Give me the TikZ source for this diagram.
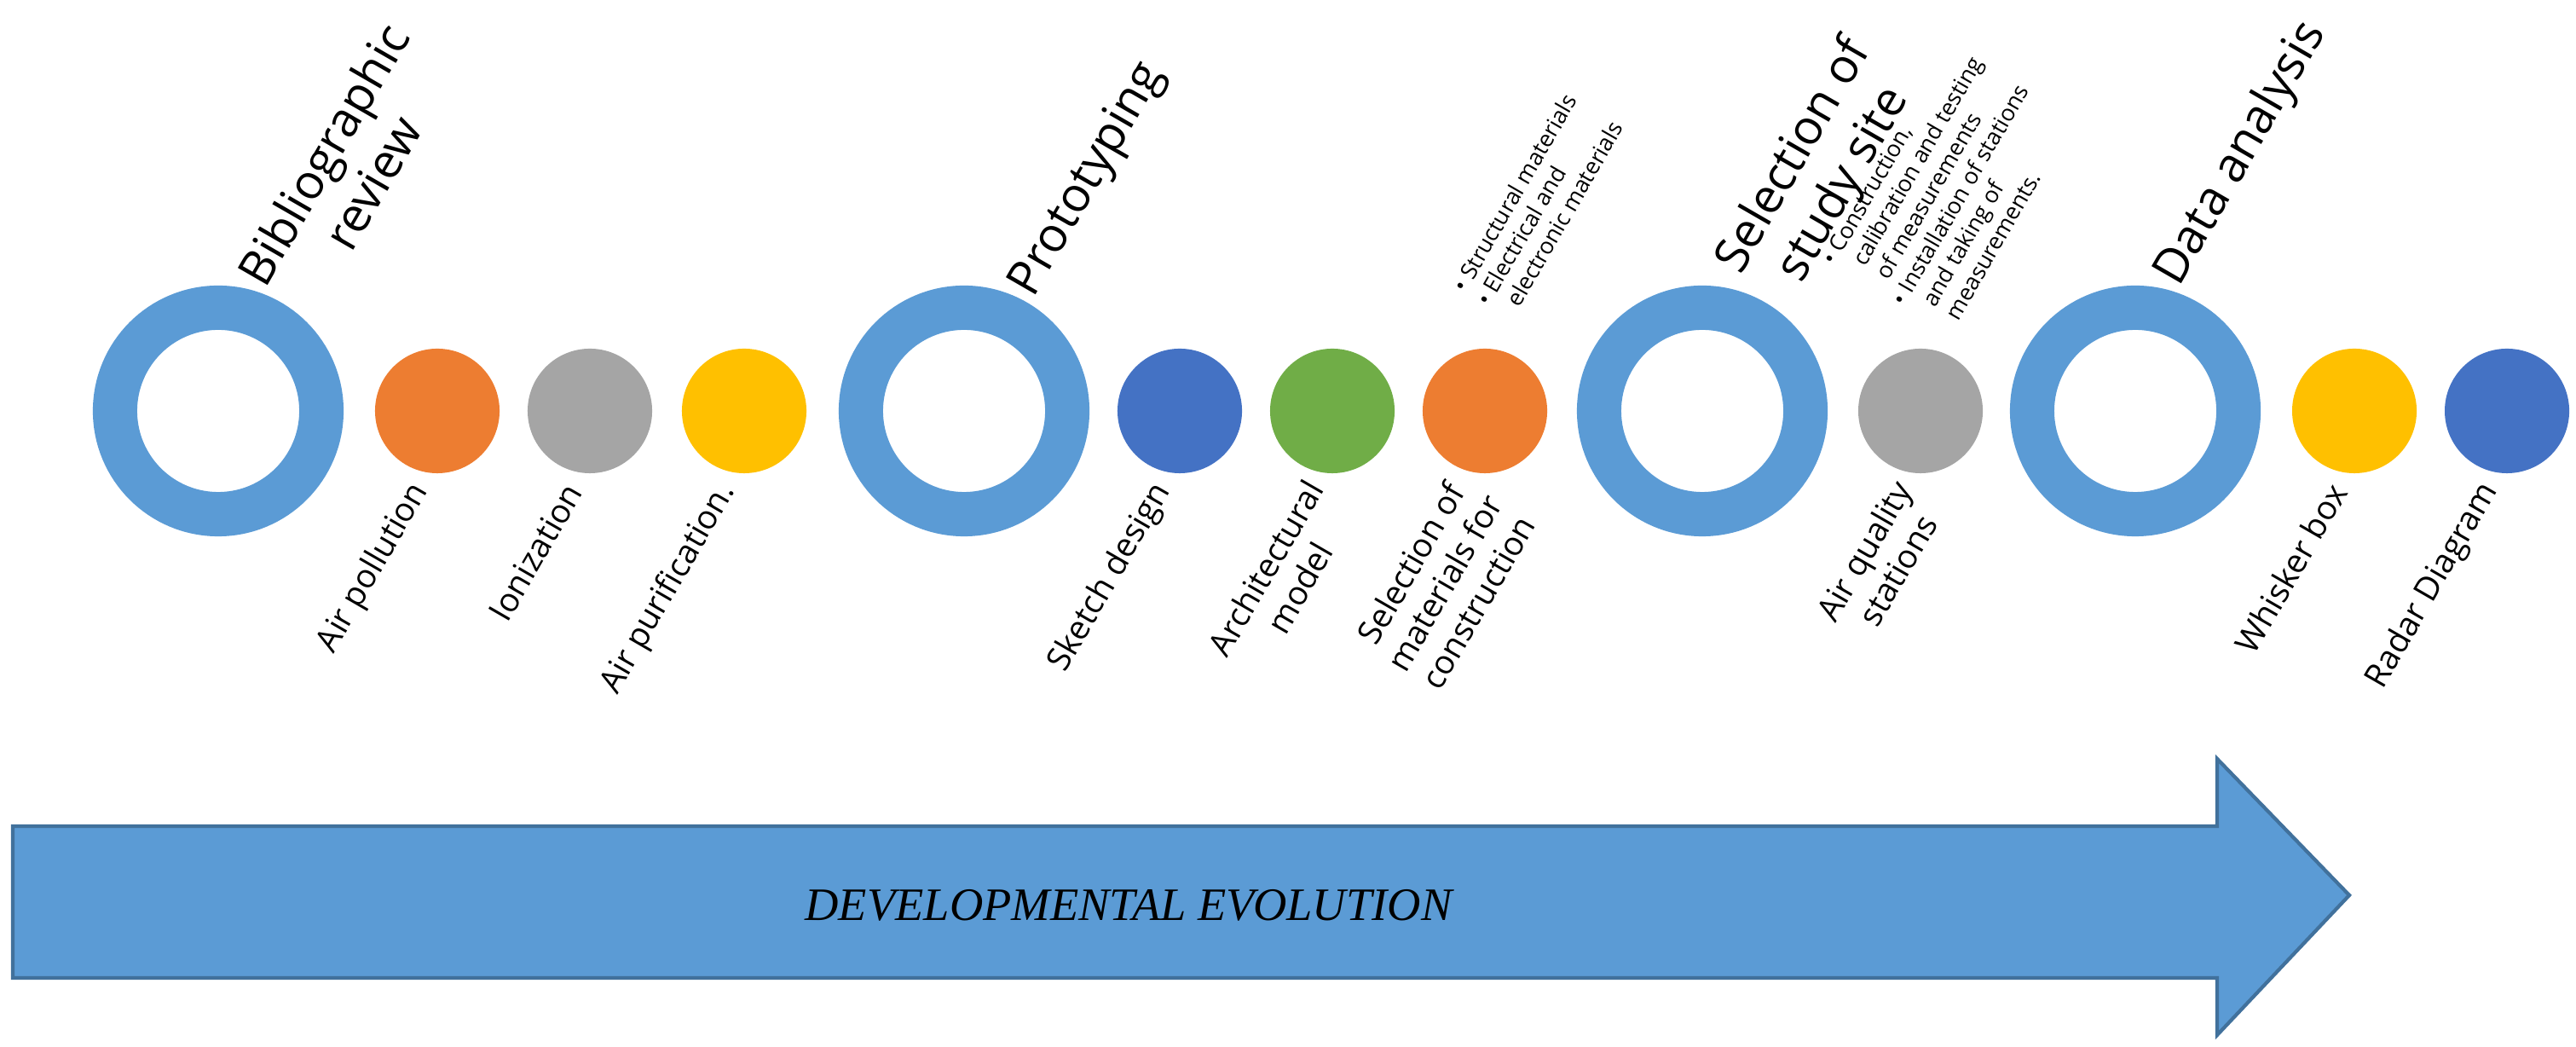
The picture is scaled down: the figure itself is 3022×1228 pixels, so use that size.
\documentclass[tikz,border=0pt]{standalone}
\usepackage{fontspec}
\setmainfont{Open Sans}
\newfontfamily\serifit{Liberation Serif}
\definecolor{cblue}{HTML}{5B9BD5}
\definecolor{cdblue}{HTML}{4472C4}
\definecolor{corange}{HTML}{ED7D31}
\definecolor{cgray}{HTML}{A5A5A5}
\definecolor{cyellow}{HTML}{FFC000}
\definecolor{cgreen}{HTML}{70AD47}
\definecolor{cborder}{HTML}{41719C}
\begin{document}
\begin{tikzpicture}[x=0.01cm,y=0.01cm,
  ring/.style={circle,draw=cblue,line width=0.52cm,minimum size=2.42cm,inner sep=0pt},
  dot/.style={circle,fill=#1,minimum size=1.46cm,inner sep=0pt},
  lab/.style={rotate=60,anchor=east,align=center,font=\fontsize{11}{13}\selectfont,inner sep=0pt},
  ttl/.style={rotate=60,anchor=west,align=center,font=\fontsize{16}{19}\selectfont,inner sep=0pt},
  bl/.style={rotate=60,anchor=west,align=left,font=\fontsize{7.6}{9}\selectfont,inner sep=0pt}]
\useasboundingbox (0,0) rectangle (3022,1228);
% arrow
\draw[fill=cblue,draw=cborder,line width=1.2pt] (15,259) -- (2601,259) -- (2601,338) -- (2756,178) -- (2601,14) -- (2601,81) -- (15,81) -- cycle;
\node (evo) at (1324,166) {\serifit\itshape\fontsize{15.5}{18}\selectfont DEVELOPMENTAL EVOLUTION};
% bullet texts
\node[bl] (b1) at (1738,872) {\textbullet\ Structural materials\\\textbullet\ Electrical and\\\phantom{\textbullet\ }electronic materials};
\node[bl] (b2) at (2212,880) {\textbullet\ Construction,\\\phantom{\textbullet\ }calibration and testing\\\phantom{\textbullet\ }of measurements\\\textbullet\ Installation of stations\\\phantom{\textbullet\ }and taking of\\\phantom{\textbullet\ }measurements.};
% rings
\node[ring] (r1) at (256,746) {};
\node[ring] (r2) at (1131,746) {};
\node[ring] (r3) at (1997,746) {};
\node[ring] (r4) at (2505,746) {};
% dots
\node[dot=corange] (d1) at (513,746) {};
\node[dot=cgray] (d2) at (692,746) {};
\node[dot=cyellow] (d3) at (873,746) {};
\node[dot=cdblue] (d4) at (1384,746) {};
\node[dot=cgreen] (d5) at (1563,746) {};
\node[dot=corange] (d6) at (1742,746) {};
\node[dot=cgray] (d7) at (2253,746) {};
\node[dot=cyellow] (d8) at (2762,746) {};
\node[dot=cdblue] (d9) at (2941,746) {};
% titles
\node[ttl] (t1) at (322,882) {Bibliographic\\review};
\node[ttl] (t2) at (1200,884) {Prototyping};
\node[ttl] (t3) at (2058,895) {Selection of\\study site};
\node[ttl] (t4) at (2543,897) {Data analysis};
% labels
\node[lab] (l1) at (494,658) {Air pollution};
\node[lab] (l2) at (673,658) {Ionization};
\node[lab] (l3) at (854,658) {Air purification.};
\node[lab] (l4) at (1365,658) {Sketch design};
\node[lab] (l5) at (1562,650) {Architectural\\model};
\node[lab] (l6) at (1752,645) {Selection of\\materials for\\construction};
\node[lab] (l7) at (2252,650) {Air quality\\stations};
\node[lab] (l8) at (2743,658) {Whisker box};
\node[lab] (l9) at (2922,658) {Radar Diagram};
\end{tikzpicture}
\end{document}
